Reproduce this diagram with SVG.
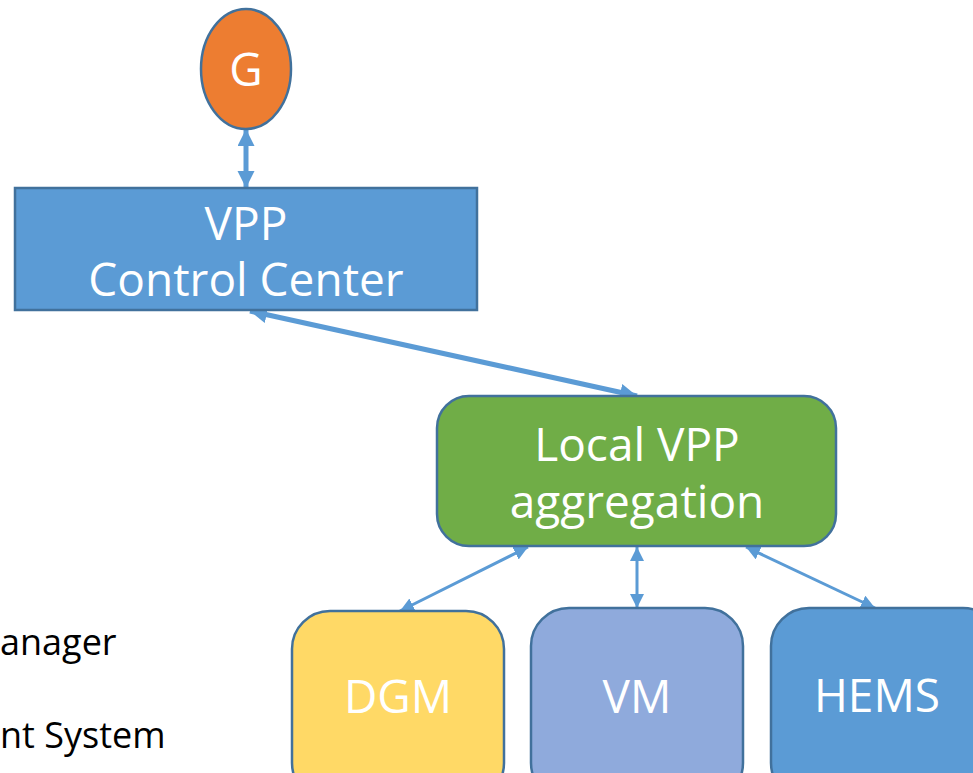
<svg xmlns="http://www.w3.org/2000/svg" width="973" height="773" viewBox="0 0 973 773">
<style>
.lbl{font-family:"Open Sans","Noto Sans","Liberation Sans",sans-serif;fill:#ffffff;text-anchor:middle;font-size:46px}
.side{font-family:"Open Sans","Noto Sans","Liberation Sans",sans-serif;fill:#000000;font-size:36px}
.shape{stroke:#41719C;stroke-width:2.5}
.thick{stroke:#5B9BD5;stroke-width:5;fill:none}
.thin{stroke:#5B9BD5;stroke-width:3;fill:none}
</style>
<defs>
<marker id="ah" markerUnits="userSpaceOnUse" markerWidth="18" markerHeight="18" refX="17" refY="8.5" orient="auto-start-reverse">
<path d="M0,0 L17,8.5 L0,17 z" fill="#5B9BD5"/>
</marker>
<marker id="as" markerUnits="userSpaceOnUse" markerWidth="16" markerHeight="16" refX="14" refY="7" orient="auto-start-reverse">
<path d="M0,0 L14,7 L0,14 z" fill="#5B9BD5"/>
</marker>
</defs>
<rect width="973" height="773" fill="#ffffff"/>
<g id="side-text">
<text class="side" x="0" y="655">anager</text>
<text class="side" x="0" y="748">nt System</text>
</g>
<g id="connectors">
<line class="thick" x1="246" y1="129" x2="246" y2="188" marker-start="url(#ah)" marker-end="url(#ah)"/>
<line class="thick" x1="250" y1="311" x2="637" y2="396" marker-start="url(#ah)" marker-end="url(#ah)"/>
<line class="thin" x1="528" y1="547" x2="400" y2="611" marker-start="url(#as)" marker-end="url(#as)"/>
<line class="thin" x1="637" y1="547" x2="637" y2="608" marker-start="url(#as)" marker-end="url(#as)"/>
<line class="thin" x1="746" y1="547" x2="875" y2="608" marker-start="url(#as)" marker-end="url(#as)"/>
</g>
<g id="node-g">
<ellipse class="shape" cx="246" cy="69" rx="45" ry="60" fill="#ED7D31"/>
<text class="lbl" x="246" y="86" font-size="48">G</text>
</g>
<g id="node-vpp">
<rect class="shape" x="15" y="188" width="462" height="122" fill="#5B9BD5"/>
<text class="lbl" x="246" y="240">VPP</text>
<text class="lbl" x="246" y="296">Control Center</text>
</g>
<g id="node-local">
<rect class="shape" x="437" y="396" width="399" height="150" rx="32" fill="#70AD47"/>
<text class="lbl" x="637" y="461">Local VPP</text>
<text class="lbl" x="637" y="518">aggregation</text>
</g>
<g id="node-dgm">
<rect class="shape" x="292" y="611" width="212" height="190" rx="38" fill="#FFD966"/>
<text class="lbl" x="398" y="713">DGM</text>
</g>
<g id="node-vm">
<rect class="shape" x="531" y="608" width="212" height="193" rx="38" fill="#8FAADC"/>
<text class="lbl" x="637" y="713">VM</text>
</g>
<g id="node-hems">
<rect class="shape" x="771" y="608" width="230" height="193" rx="38" fill="#5B9BD5"/>
<text class="lbl" x="877" y="712">HEMS</text>
</g>
</svg>
